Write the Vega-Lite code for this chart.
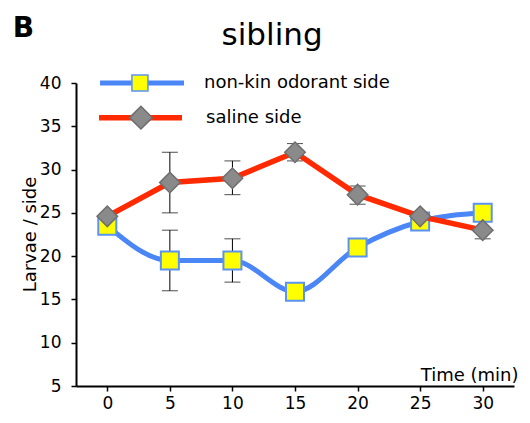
{
  "$schema": "https://vega.github.io/schema/vega-lite/v6.json",
  "width": 438,
  "height": 303,
  "autosize": {"type": "none"},
  "padding": {"left": 76, "top": 83, "right": 16, "bottom": 37},
  "config": {
    "view": {"stroke": null},
    "font": "DejaVu Sans",
    "axis": {"domainColor": "black", "domainWidth": 2, "tickColor": "black", "tickWidth": 1.5, "tickSize": 5, "labelFontSize": 17, "labelColor": "black", "labelFont": "DejaVu Sans", "titleFont": "DejaVu Sans", "titleFontSize": 18, "titleFontWeight": "normal", "titleColor": "black", "grid": false}
  },
  "datasets": {
    "series": [
      {"series": "non-kin odorant side", "time": 0, "mean": 23.5},
      {"series": "non-kin odorant side", "time": 5, "mean": 19.5},
      {"series": "non-kin odorant side", "time": 10, "mean": 19.5},
      {"series": "non-kin odorant side", "time": 15, "mean": 15.9},
      {"series": "non-kin odorant side", "time": 20, "mean": 21},
      {"series": "non-kin odorant side", "time": 25, "mean": 24},
      {"series": "non-kin odorant side", "time": 30, "mean": 25},
      {"series": "saline side", "time": 0, "mean": 24.6},
      {"series": "saline side", "time": 5, "mean": 28.5},
      {"series": "saline side", "time": 10, "mean": 29},
      {"series": "saline side", "time": 15, "mean": 32},
      {"series": "saline side", "time": 20, "mean": 27.1},
      {"series": "saline side", "time": 25, "mean": 24.6},
      {"series": "saline side", "time": 30, "mean": 23}
    ],
    "err": [
      {"series": "non-kin odorant side", "time": 5, "lo": 16, "hi": 23},
      {"series": "non-kin odorant side", "time": 10, "lo": 17, "hi": 22},
      {"series": "saline side", "time": 5, "lo": 25, "hi": 32},
      {"series": "saline side", "time": 10, "lo": 27.1, "hi": 31},
      {"series": "saline side", "time": 15, "lo": 31, "hi": 33},
      {"series": "saline side", "time": 20, "lo": 26, "hi": 28.1},
      {"series": "saline side", "time": 30, "lo": 22, "hi": 24}
    ],
    "legend": [
      {"series": "non-kin odorant side", "x1": -0.58, "x2": 6.13, "px": 2.61, "tx": 7.73, "y": 40},
      {"series": "saline side", "x1": -0.66, "x2": 5.97, "px": 2.69, "tx": 7.89, "y": 36}
    ],
    "labels": [
      {"label": "B", "x": -7.56, "y": 45.35, "kind": "panel"},
      {"label": "sibling", "x": 13.17, "y": 44.4, "kind": "title"}
    ]
  },
  "layer": [
    {
      "data": {"name": "err"},
      "mark": {"type": "rule", "color": "black", "strokeWidth": 1},
      "encoding": {
        "x": {"field": "time", "type": "quantitative", "scale": {"domain": [-2.5, 32.5], "nice": false, "zero": false},
              "axis": {"values": [0, 5, 10, 15, 20, 25, 30], "title": "Time (min)", "labelPadding": 4, "titleX": 442, "titleY": -6, "titleAlign": "right", "titleBaseline": "alphabetic"}},
        "y": {"field": "lo", "type": "quantitative", "scale": {"domain": [5, 40], "nice": false, "zero": false},
              "axis": {"values": [5, 10, 15, 20, 25, 30, 35, 40], "title": "Larvae / side", "labelPadding": 10, "titleX": -41, "titleY": 151, "titleAngle": -90, "titleBaseline": "alphabetic", "titleAlign": "center"}},
        "y2": {"field": "hi"}
      }
    },
    {
      "data": {"name": "err"},
      "mark": {"type": "tick", "orient": "horizontal", "color": "black", "size": 16, "thickness": 1},
      "encoding": {
        "x": {"field": "time", "type": "quantitative"},
        "y": {"field": "lo", "type": "quantitative"}
      }
    },
    {
      "data": {"name": "err"},
      "mark": {"type": "tick", "orient": "horizontal", "color": "black", "size": 16, "thickness": 1},
      "encoding": {
        "x": {"field": "time", "type": "quantitative"},
        "y": {"field": "hi", "type": "quantitative"}
      }
    },
    {
      "data": {"name": "series"},
      "transform": [{"filter": "datum.series === 'non-kin odorant side'"}],
      "mark": {"type": "line", "color": "#4a86f5", "strokeWidth": 5, "interpolate": "monotone"},
      "encoding": {
        "x": {"field": "time", "type": "quantitative"},
        "y": {"field": "mean", "type": "quantitative"}
      }
    },
    {
      "data": {"name": "series"},
      "transform": [{"filter": "datum.series === 'non-kin odorant side'"}],
      "mark": {"type": "point", "shape": "square", "filled": true, "fill": "#ffff00", "stroke": "#5b93f2", "strokeWidth": 2, "size": 324, "opacity": 1},
      "encoding": {
        "x": {"field": "time", "type": "quantitative"},
        "y": {"field": "mean", "type": "quantitative"}
      }
    },
    {
      "data": {"name": "series"},
      "transform": [{"filter": "datum.series === 'saline side'"}],
      "mark": {"type": "line", "color": "#ff2a00", "strokeWidth": 5.5, "interpolate": "linear"},
      "encoding": {
        "x": {"field": "time", "type": "quantitative"},
        "y": {"field": "mean", "type": "quantitative"}
      }
    },
    {
      "data": {"name": "series"},
      "transform": [{"filter": "datum.series === 'saline side'"}],
      "mark": {"type": "point", "shape": "diamond", "filled": true, "fill": "#8a8a8a", "stroke": "#6e6e6e", "strokeWidth": 1.5, "size": 420, "opacity": 1},
      "encoding": {
        "x": {"field": "time", "type": "quantitative"},
        "y": {"field": "mean", "type": "quantitative"}
      }
    },
    {
      "data": {"name": "legend"},
      "transform": [{"filter": "datum.series === 'non-kin odorant side'"}],
      "mark": {"type": "rule", "color": "#4a86f5", "strokeWidth": 5},
      "encoding": {
        "x": {"field": "x1", "type": "quantitative"},
        "x2": {"field": "x2"},
        "y": {"field": "y", "type": "quantitative"}
      }
    },
    {
      "data": {"name": "legend"},
      "transform": [{"filter": "datum.series === 'non-kin odorant side'"}],
      "mark": {"type": "point", "shape": "square", "filled": true, "fill": "#ffff00", "stroke": "#5b93f2", "strokeWidth": 1.5, "size": 256, "opacity": 1},
      "encoding": {
        "x": {"field": "px", "type": "quantitative"},
        "y": {"field": "y", "type": "quantitative"}
      }
    },
    {
      "data": {"name": "legend"},
      "transform": [{"filter": "datum.series === 'saline side'"}],
      "mark": {"type": "rule", "color": "#ff2a00", "strokeWidth": 5.5},
      "encoding": {
        "x": {"field": "x1", "type": "quantitative"},
        "x2": {"field": "x2"},
        "y": {"field": "y", "type": "quantitative"}
      }
    },
    {
      "data": {"name": "legend"},
      "transform": [{"filter": "datum.series === 'saline side'"}],
      "mark": {"type": "point", "shape": "diamond", "filled": true, "fill": "#8a8a8a", "stroke": "#6e6e6e", "strokeWidth": 1.5, "size": 520, "opacity": 1},
      "encoding": {
        "x": {"field": "px", "type": "quantitative"},
        "y": {"field": "y", "type": "quantitative"}
      }
    },
    {
      "data": {"name": "legend"},
      "mark": {"type": "text", "align": "left", "baseline": "middle", "fontSize": 18, "font": "DejaVu Sans", "color": "black"},
      "encoding": {
        "x": {"field": "tx", "type": "quantitative"},
        "y": {"field": "y", "type": "quantitative"},
        "text": {"field": "series"}
      }
    },
    {
      "data": {"name": "labels"},
      "transform": [{"filter": "datum.kind === 'panel'"}],
      "mark": {"type": "text", "align": "left", "baseline": "alphabetic", "fontSize": 28, "fontWeight": "bold", "font": "DejaVu Sans", "color": "black"},
      "encoding": {
        "x": {"field": "x", "type": "quantitative"},
        "y": {"field": "y", "type": "quantitative"},
        "text": {"field": "label"}
      }
    },
    {
      "data": {"name": "labels"},
      "transform": [{"filter": "datum.kind === 'title'"}],
      "mark": {"type": "text", "align": "center", "baseline": "alphabetic", "fontSize": 31, "font": "DejaVu Sans", "color": "black"},
      "encoding": {
        "x": {"field": "x", "type": "quantitative"},
        "y": {"field": "y", "type": "quantitative"},
        "text": {"field": "label"}
      }
    }
  ]
}
